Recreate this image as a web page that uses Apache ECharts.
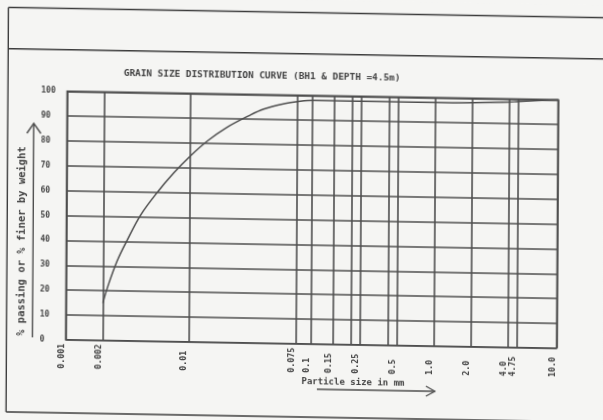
<!DOCTYPE html>
<html>
<head>
<meta charset="utf-8">
<script src="https://cdn.jsdelivr.net/npm/echarts@6/dist/echarts.min.js"></script>
<style>
  html, body { margin: 0; padding: 0; width: 603px; height: 420px; overflow: hidden; background: #f5f5f3; }
  /* sheet sits slightly askew on the page */
  #chart { width: 603px; height: 420px; transform-origin: 301.5px 210px; transform: matrix(1, 0.0173, -0.006, 1, 0, 0); }
</style>
</head>
<body>
<div id="chart"></div>
<script>
// Particle size (mm) and percentage finer along the gradation curve
const particleSize = [0.002, 0.0022, 0.0026, 0.0031, 0.004, 0.0055, 0.0075, 0.01, 0.014, 0.02, 0.03, 0.04, 0.06, 0.075, 0.1, 0.15, 0.212, 0.25, 0.425, 0.5, 1.0, 2.0, 4.0, 4.75, 10.0];
const percentFiner = [15, 22, 32, 40, 50.5, 60, 68, 74.5, 81, 86.5, 91.3, 94.2, 96.6, 97.4, 98, 98, 98, 98, 98, 98, 98, 98.2, 98.7, 99, 100];

// Vertical rulings (sieve sizes, mm) and the sizes that carry a label
const rulingSizes = [0.001, 0.002, 0.01, 0.075, 0.1, 0.15, 0.212, 0.25, 0.425, 0.5, 1, 2, 4, 4.75, 10];
const labelSizes = [0.001, 0.002, 0.01, 0.075, 0.1, 0.15, 0.25, 0.5, 1, 2, 4, 4.75, 10];
const labelTexts = ['0.001', '0.002', '0.01', '0.075', '0.1', '0.15', '0.25', '0.5', '1.0', '2.0', '4.0', '4.75', '10.0'];

// Percentage scale
const pctMin = 0, pctMax = 100, pctStep = 10;

const titleText = 'GRAIN SIZE DISTRIBUTION CURVE (BH1 & DEPTH =4.5m)';
const yName = '% passing or % finer by weight';
const xName = 'Particle size in mm';

const ink = '#444444';
const rule = '#4e4e4e';
const mono = '"DejaVu Sans Mono", monospace';

const chart = echarts.init(document.getElementById('chart'), null, { renderer: 'canvas' });

const logLabelValues = labelSizes.map(v => Math.log10(v));
const logRulingValues = rulingSizes.map(v => Math.log10(v));

chart.setOption({
  backgroundColor: '#f5f5f3',
  animation: false,
  title: {
    text: titleText,
    left: 118,
    top: 67,
    textStyle: { fontFamily: mono, fontSize: 9.4, fontWeight: 'bold', color: ink }
  },
  grid: {
    left: 66.5, top: 95.3, width: 491, height: 248.5,
    show: true, borderColor: rule, borderWidth: 1.6, backgroundColor: 'transparent',
    outerBoundsMode: 'none'
  },
  xAxis: [
    { // logarithmic size scale carrying the curve
      type: 'log', logBase: 10, min: 0.001, max: 10, show: false
    },
    { // decade scale (log10 of size) carrying the rulings and labels
      type: 'value', min: -3, max: 1, position: 'bottom',
      axisLine: { show: false },
      axisTick: { show: false, customValues: logRulingValues },
      splitLine: { show: true, lineStyle: { color: rule, width: 1.6 } },
      axisLabel: {
        customValues: logLabelValues,
        hideOverlap: false,
        rotate: 90,
        align: 'left',
        verticalAlign: 'bottom',
        margin: 29,
        fontFamily: mono, fontSize: 8.3, fontWeight: 'bold', color: ink,
        formatter: function (val) {
          for (let i = 0; i < labelSizes.length; i++) {
            if (Math.abs(Math.log10(labelSizes[i]) - val) < 1e-6) return labelTexts[i];
          }
          return '';
        }
      }
    }
  ],
  yAxis: {
    type: 'value', min: pctMin, max: pctMax, interval: pctStep,
    axisLine: { show: false },
    axisTick: { show: false },
    splitLine: { show: true, lineStyle: { color: rule, width: 1.6 } },
    axisLabel: {
      align: 'left', margin: 26,
      fontFamily: mono, fontSize: 8, fontWeight: 'bold', color: ink
    }
  },
  series: [{
    type: 'line',
    xAxisIndex: 0,
    data: particleSize.map((d, i) => [d, percentFiner[i]]),
    smooth: 0.35,
    showSymbol: false,
    lineStyle: { color: rule, width: 1.5 }
  }],
  graphic: [
    // sheet frame
    { type: 'line', shape: { x1: 7.3, y1: 12.5, x2: 640, y2: 12.5 }, style: { stroke: '#3c3c3c', lineWidth: 1.4 } },
    { type: 'line', shape: { x1: 7.3, y1: 53.8, x2: 640, y2: 53.8 }, style: { stroke: '#3c3c3c', lineWidth: 1.4 } },
    { type: 'line', shape: { x1: 7.3, y1: 417, x2: 640, y2: 417 }, style: { stroke: '#3c3c3c', lineWidth: 1.6 } },
    { type: 'line', shape: { x1: 7.3, y1: 12.5, x2: 7.3, y2: 417 }, style: { stroke: '#3c3c3c', lineWidth: 1.4 } },
    // vertical axis caption with arrow
    { type: 'line', shape: { x1: 33.3, y1: 342, x2: 33.3, y2: 128 }, style: { stroke: rule, lineWidth: 1.4 } },
    { type: 'polyline', shape: { points: [[26.5, 138], [33.3, 128], [40.5, 138]] }, style: { stroke: rule, lineWidth: 1.4, fill: null } },
    {
      type: 'text', x: 22, y: 246, rotation: Math.PI / 2,
      style: { text: yName, fontFamily: mono, fontSize: 10.5, fontWeight: 'bold', fill: ink, align: 'center', verticalAlign: 'middle' }
    },
    // horizontal axis caption with arrow
    {
      type: 'text', x: 354, y: 382,
      style: { text: xName, fontFamily: mono, fontSize: 9, fontWeight: 'bold', fill: ink, align: 'center', verticalAlign: 'middle' }
    },
    { type: 'line', shape: { x1: 318, y1: 389, x2: 436, y2: 389 }, style: { stroke: rule, lineWidth: 1.3 } },
    { type: 'polyline', shape: { points: [[427, 384], [436, 389], [427, 394]] }, style: { stroke: rule, lineWidth: 1.3, fill: null } }
  ]
});
</script>
</body>
</html>
